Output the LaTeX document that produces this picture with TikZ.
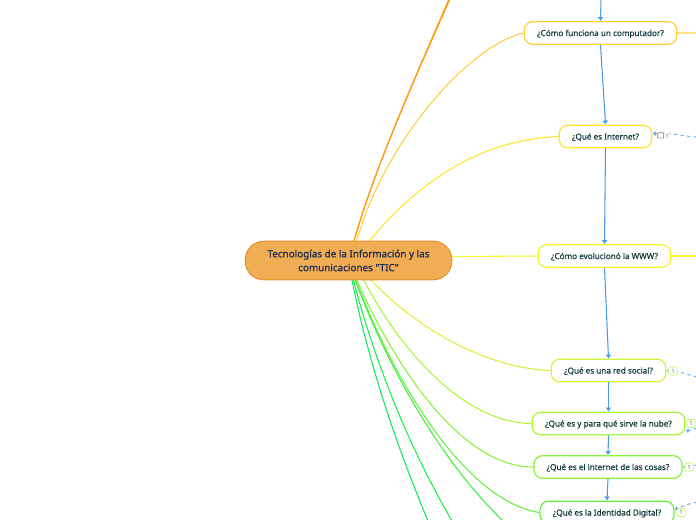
\documentclass[tikz,border=0pt]{standalone}
\usepackage{fontspec}
\usepackage{xcolor}
\setmainfont{Noto Sans}
\newfontfamily\topicfont[FakeBold=0.35]{Noto Sans}
\newfontfamily\mainfont[FakeBold=0.9]{Noto Sans}
\usetikzlibrary{arrows.meta,backgrounds}
\definecolor{inktext}{HTML}{123A3A}
\definecolor{mainink}{HTML}{1C2C50}
\definecolor{mainfill}{HTML}{F0AD54}
\definecolor{mainedge}{HTML}{E98E2B}
\definecolor{linkblue}{HTML}{4A9BEA}
\definecolor{orangeA}{HTML}{FF9A14}
\definecolor{goldA}{HTML}{FFCF3C}
\definecolor{yellowA}{HTML}{FFE52B}
\definecolor{yellowB}{HTML}{F2F52A}
\definecolor{limeA}{HTML}{CFF53A}
\definecolor{limeB}{HTML}{A8F53C}
\definecolor{limeC}{HTML}{88F23C}
\definecolor{limeD}{HTML}{66F03C}
\definecolor{greenA}{HTML}{3DF03C}
\definecolor{greenB}{HTML}{1EEE48}
\definecolor{greenC}{HTML}{10EC5A}
\tikzset{
  topic/.style={draw=#1,fill=white,line width=0.9pt,rounded corners=6.5pt,
    inner sep=0pt,minimum height=17pt,text height=5.5pt,text depth=1pt,text=inktext,
    font=\topicfont\fontsize{6.1}{7}\selectfont},
  badge/.style={draw=limeB!70,fill=white,line width=0.6pt,rounded corners=1.3pt,
    inner sep=0pt,minimum width=6.5pt,minimum height=6pt,text=gray!80!black,
    font=\fontsize{4.5}{5}\selectfont},
  branch/.style={draw=#1,line width=0.8pt},
  flow/.style={draw=linkblue,line width=0.8pt,-{Latex[length=3pt,width=4.5pt]}},
  remark/.style={draw=linkblue!80,line width=0.7pt,dash pattern=on 2.5pt off 2.5pt,-{Latex[length=2.5pt,width=4pt]}}
}
\begin{document}
\begin{tikzpicture}[x=0.75pt,y=-0.75pt]
  \clip (0,0) rectangle (696,520);
  \node[draw=mainedge,fill=mainfill,line width=0.7pt,rounded corners=14pt,inner sep=0pt,
    minimum width=155pt,minimum height=29pt,align=center,text=mainink,
    font=\mainfont\fontsize{7.4}{10.4}\selectfont] (main) at (348.5,260.5)
    {Tecnologías de la Información y las\\comunicaciones "TIC"};
  \coordinate (hub) at (354,260);
  \coordinate (hubTop) at (354,241);
  \node[topic=goldA,minimum width=114.5pt] (computer) at (600.5,33) {¿Cómo funciona un computador?};
  \node[topic=yellowA,minimum width=69.5pt] (internet) at (605.5,136.5) {¿Qué es Internet?};
  \node[topic=yellowB,minimum width=99.5pt] (www) at (604.5,256) {¿Cómo evolucionó la WWW?};
  \node[topic=limeA,minimum width=86pt] (social) at (608.5,370.5) {¿Qué es una red social?};
  \node[topic=limeB,minimum width=114.5pt] (cloud) at (608.5,423.5) {¿Qué es y para qué sirve la nube?};
  \node[topic=limeC,minimum width=111pt] (things) at (608,467) {¿Qué es el internet de las cosas?};
  \node[topic=limeD,minimum width=100.5pt] (identity) at (607,512.5) {¿Qué es la Identidad Digital?};
  % free ends, outside the page
  \coordinate (topA) at (449,-1);
  \coordinate (topB) at (450,-1);
  \coordinate (topC) at (601,-1);
  \coordinate (stubA) at (697,33);
  \coordinate (stubB) at (697,256);
  \coordinate (lowA) at (503,521);
  \coordinate (lowB) at (452,521);
  \coordinate (lowC) at (428,521);
  \coordinate (noteA) at (697,137);
  \coordinate (noteB) at (697,377);
  \coordinate (noteC) at (697,428);
  \coordinate (noteD) at (697,465);
  \coordinate (noteE) at (697,502);
  % badges
  \node[draw=gray,fill=white,line width=0.5pt,rounded corners=0.8pt,inner sep=0pt,
    minimum width=4.8pt,minimum height=4pt] (bubble) at (660.5,135.5) {};
  \node[fill=white,text=gray!80!black,inner sep=0.5pt,font=\fontsize{4.5}{5}\selectfont] (count) at (667,136) {1};
  \node[badge] (badgeB) at (673,371) {1};
  \node[badge] (badgeC) at (691,423.5) {1};
  \node[badge] (badgeD) at (689,467) {1};
  \node[badge] (badgeE) at (681,512.5) {1};
  \begin{scope}[on background layer]
    \draw[branch=orangeA,line width=0.9pt] (hubTop) .. controls (376,165) and (412,85) .. (topA);
    \draw[branch=orangeA,line width=0.8pt] (hubTop) .. controls (374,170) and (414,80) .. (topB);
    \draw[branch=goldA] ([xshift=2pt]hubTop) .. controls (385,140) and (470,45) .. (computer.west);
    \draw[branch=yellowA] (hub) .. controls (415,180) and (480,140) .. (internet.west);
    \draw[branch=yellowB] ([yshift=3pt]main.east) -- (www.west);
    \draw[branch=limeA] (hub) .. controls (400,320) and (480,368) .. (social.west);
    \draw[branch=limeB] (hub) .. controls (385,330) and (455,423) .. (cloud.west);
    \draw[branch=limeC] (main.center) .. controls (385,350) and (455,467) .. (things.west);
    \draw[branch=limeD] (main.center) .. controls (385,365) and (460,500) .. (identity.west);
    \draw[branch=greenA] (main.center) .. controls (378,350) and (435,455) .. (lowA);
    \draw[branch=greenB] (main.center) .. controls (370,350) and (405,440) .. (lowB);
    \draw[branch=greenC] (main.center) .. controls (362,340) and (390,430) .. (lowC);
    \draw[branch=goldA!60] (computer.east) -- (stubA);
    \draw[branch=yellowB] (www.east) -- (stubB);
    \draw[remark] (noteA) .. controls (680,136) and (668,132) .. ([yshift=2pt]internet.east);
    \draw[remark] (noteB) .. controls (688,375) and (680,371) .. (social.east);
    \draw[remark] (noteC) .. controls (692,430) and (689,431) .. ([yshift=-5pt]cloud.east);
    \draw[remark] (noteD) .. controls (692,465) and (688,467) .. (things.east);
    \draw[remark] (noteE) .. controls (688,504) and (680,507) .. ([yshift=2pt]identity.east);
  \end{scope}
  \draw[flow] (topC) -- (computer.north);
  \draw[flow] (computer.south) -- (internet.north);
  \draw[flow] (internet.south) -- (www.north);
  \draw[flow] (www.south) -- (social.north);
  \draw[flow] (social.south) -- (cloud.north);
  \draw[flow] (cloud.south) -- (things.north);
  \draw[flow] (things.south) -- (identity.north);
\end{tikzpicture}
\end{document}
